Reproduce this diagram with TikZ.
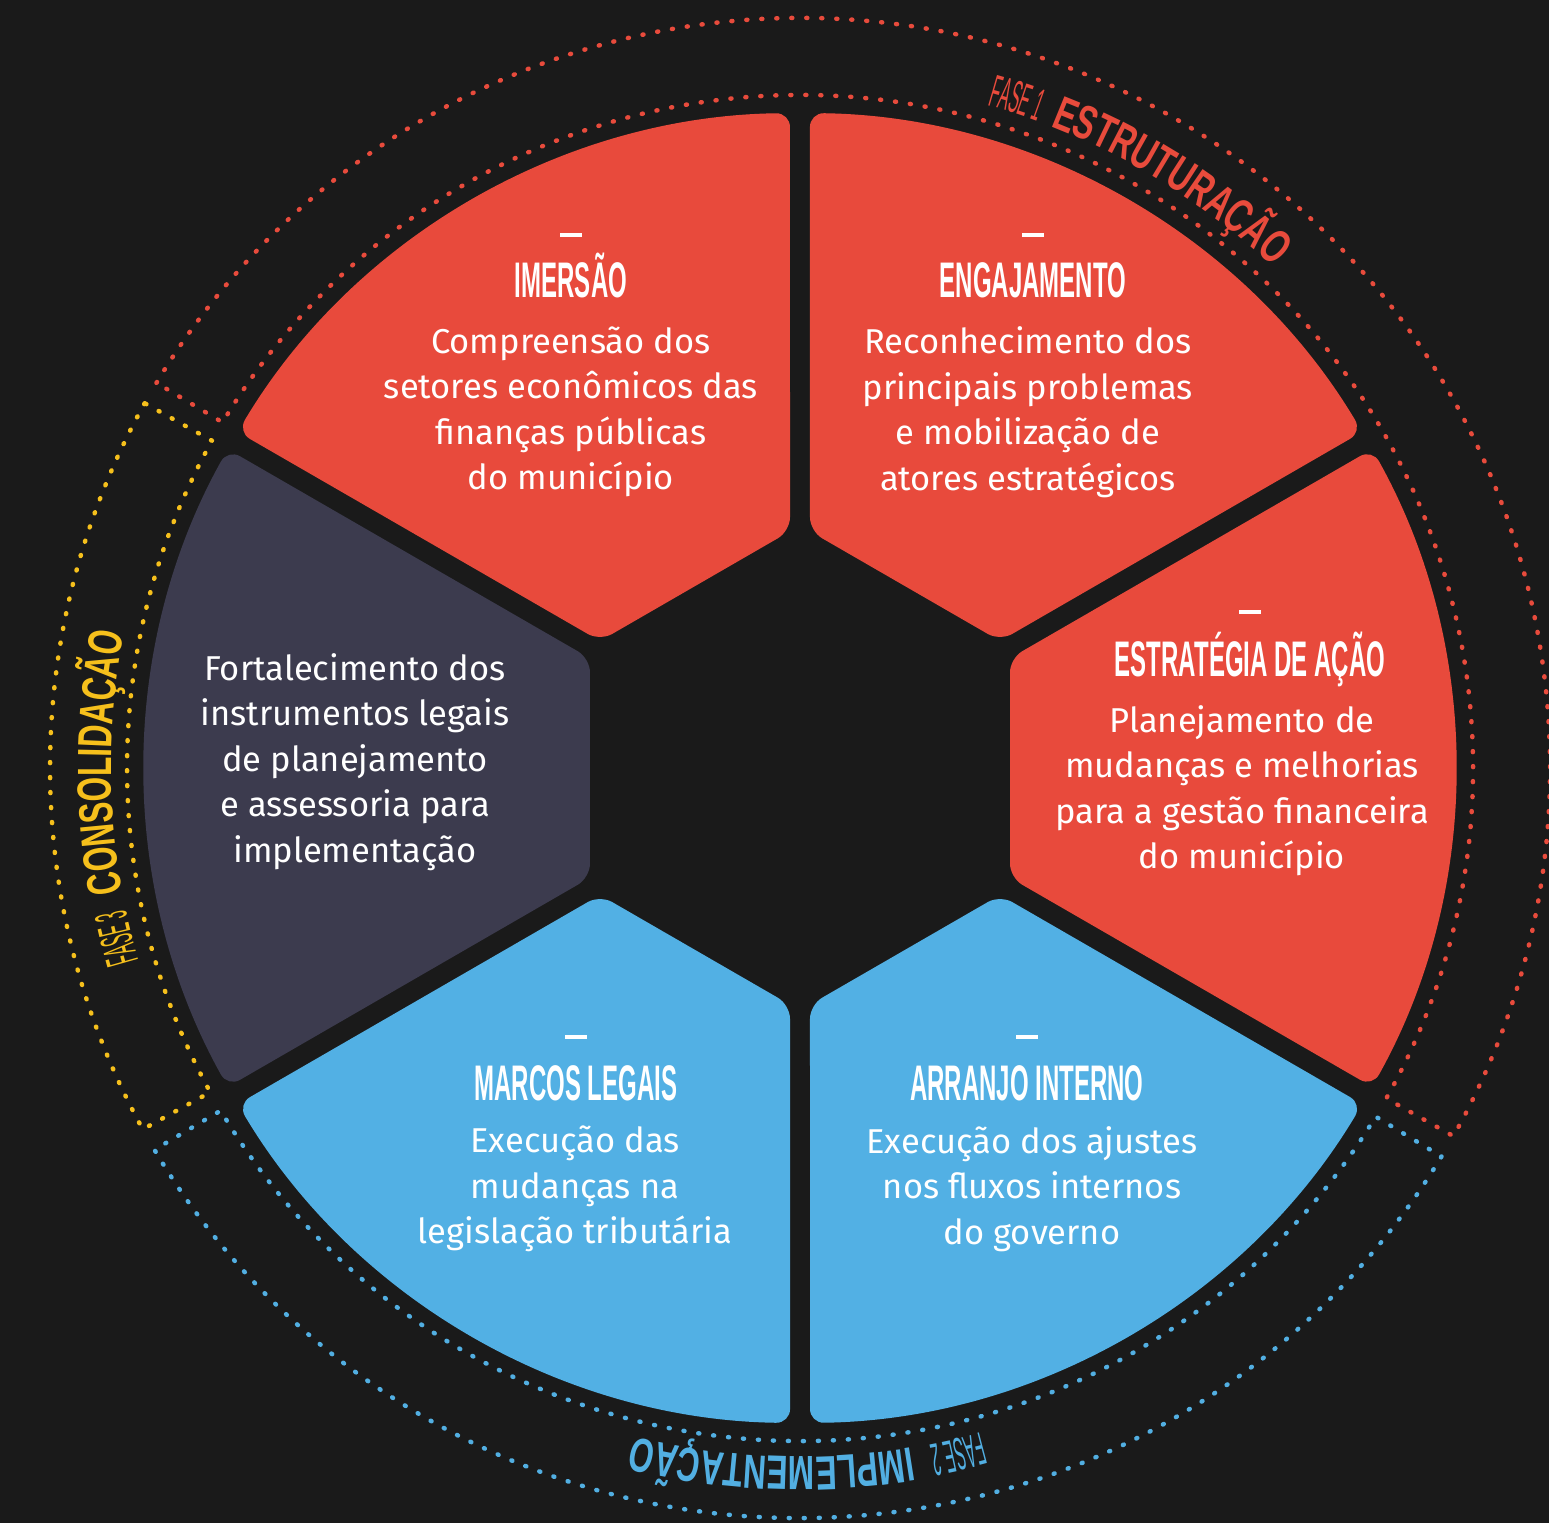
\documentclass[tikz,border=0pt]{standalone}
\usepackage{fontspec}
\setmainfont{Fira Sans}
\newfontfamily\titlefont[FakeStretch=0.48]{Liberation Sans}
\newfontfamily\ringfont[FakeStretch=0.66]{Liberation Sans}
\newfontfamily\fasefont[FakeStretch=0.33]{Liberation Sans}
\usetikzlibrary{decorations.text}

\definecolor{bgdark}{HTML}{1A1A1A}
\definecolor{segred}{HTML}{E84A3C}
\definecolor{segblue}{HTML}{52B0E4}
\definecolor{segdark}{HTML}{3C3B4E}
\definecolor{phasered}{HTML}{E84B3C}
\definecolor{phaseblue}{HTML}{52AFE2}
\definecolor{phaseyellow}{HTML}{F6C01C}

\tikzset{
  segment/.style={fill=#1, rounded corners=14pt},
  segtitle/.style={text=white, anchor=base, inner sep=0pt,
    font=\titlefont\bfseries\fontsize{50}{50}\selectfont},
  bar/.style={fill=white, minimum width=22pt, minimum height=4pt, inner sep=0pt},
  segtext/.style={text=white, align=center, inner sep=0pt,
    font=\fontsize{34.5}{45.5}\selectfont},
  band/.style={draw=#1, line width=4.5pt, line cap=round, dash pattern=on 1pt off 14pt},
}

\begin{document}
\begin{tikzpicture}[x=1pt,y=1pt]
\path[use as bounding box, fill=bgdark] (-800,-755) rectangle (749,768);

% six pieces of the wheel
\begin{scope}[rotate=120]
\path[segment=segred] (210,0) -- (210,-109.7) -- (572.2,-318.8) arc[start angle=-29.13, end angle=29.13, radius=655] -- (210,109.7) -- cycle;
\end{scope}
\begin{scope}[rotate=60]
\path[segment=segred] (210,0) -- (210,-109.7) -- (572.2,-318.8) arc[start angle=-29.13, end angle=29.13, radius=655] -- (210,109.7) -- cycle;
\end{scope}
\begin{scope}[rotate=0]
\path[segment=segred] (210,0) -- (210,-109.7) -- (572.2,-318.8) arc[start angle=-29.13, end angle=29.13, radius=655] -- (210,109.7) -- cycle;
\end{scope}
\begin{scope}[rotate=-60]
\path[segment=segblue] (210,0) -- (210,-109.7) -- (572.2,-318.8) arc[start angle=-29.13, end angle=29.13, radius=655] -- (210,109.7) -- cycle;
\end{scope}
\begin{scope}[rotate=-120]
\path[segment=segblue] (210,0) -- (210,-109.7) -- (572.2,-318.8) arc[start angle=-29.13, end angle=29.13, radius=655] -- (210,109.7) -- cycle;
\end{scope}
\begin{scope}[rotate=180]
\path[segment=segdark] (210,0) -- (210,-109.7) -- (572.2,-318.8) arc[start angle=-29.13, end angle=29.13, radius=655] -- (210,109.7) -- cycle;
\end{scope}

% dotted bands of the three phases
\path[band=phasered] (149.1:750) arc[start angle=149.1, end angle=-29.4, radius=750] -- (-29.4:673) arc[start angle=-29.4, end angle=149.1, radius=673] -- cycle;
\path[band=phaseblue] (-31.2:750) arc[start angle=-31.2, end angle=-149.4, radius=750] -- (-149.4:673) arc[start angle=-149.4, end angle=-31.2, radius=673] -- cycle;
\path[band=phaseyellow] (150.9:750) arc[start angle=150.9, end angle=208.8, radius=750] -- (208.8:673) arc[start angle=208.8, end angle=150.9, radius=673] -- cycle;

% phase names
\path[decorate, decoration={text along path, text color=phasered,
  text={|\fasefont\fontsize{46}{46}\selectfont|FASE 1}}]
  (74.2:689) arc[start angle=74.2, end angle=60, radius=689];
\path[decorate, decoration={text along path, text color=phasered,
  text={|\ringfont\bfseries\fontsize{48}{48}\selectfont|ESTRUTURAÇÃO}}]
  (68.7:689) arc[start angle=68.7, end angle=30, radius=689];
\path[decorate, decoration={text along path, text color=phaseblue,
  text={|\fasefont\fontsize{46}{46}\selectfont|FASE 2}}]
  (-74.8:689) arc[start angle=-74.8, end angle=-90, radius=689];
\path[decorate, decoration={text along path, text color=phaseblue,
  text={|\ringfont\bfseries\fontsize{48}{48}\selectfont|IMPLEMENTAÇÃO}}]
  (-80.7:689) arc[start angle=-80.7, end angle=-125, radius=689];
\path[decorate, decoration={text along path, text color=phaseyellow,
  text={|\fasefont\fontsize{46}{46}\selectfont|FASE 3}}]
  (196.2:689) arc[start angle=196.2, end angle=180, radius=689];
\path[decorate, decoration={text along path, text color=phaseyellow,
  text={|\ringfont\bfseries\fontsize{48}{48}\selectfont|CONSOLIDAÇÃO}}]
  (190.4:689) arc[start angle=190.4, end angle=150, radius=689];

% texts on the pieces
\path (-229,533) node (imersao bar) [bar] {};
\path (-229,470) node (imersao) [segtitle] {IMERSÃO};
\path (-229,356) node (imersao text) [segtext] {Compreensão dos\\setores econômicos das\\finanças públicas\\do município};

\path (233,533) node (engajamento bar) [bar] {};
\path (233,470) node (engajamento) [segtitle] {ENGAJAMENTO};
\path (228,356) node (engajamento text) [segtext] {Reconhecimento dos\\principais problemas\\e mobilização de\\atores estratégicos};

\path (450,156) node (estrategia bar) [bar] {};
\path (450,92) node (estrategia) [segtitle] {ESTRATÉGIA DE AÇÃO};
\path (442,-22.5) node (estrategia text) [segtext] {Planejamento de\\mudanças e melhorias\\para a gestão financeira\\do município};

\path (227,-269) node (arranjo bar) [bar] {};
\path (227,-332) node (arranjo) [segtitle] {ARRANJO INTERNO};
\path (232,-421) node (arranjo text) [segtext] {Execução dos ajustes\\nos fluxos internos\\do governo};

\path (-224,-269) node (marcos bar) [bar] {};
\path (-224,-332) node (marcos) [segtitle] {MARCOS LEGAIS};
\path (-225,-421) node (marcos text) [segtext] {Execução das\\mudanças na\\legislação tributária};

\path (-445,6) node (fortalecimento text) [segtext] {Fortalecimento dos\\instrumentos legais\\de planejamento\\e assessoria para\\implementação};
\end{tikzpicture}
\end{document}
